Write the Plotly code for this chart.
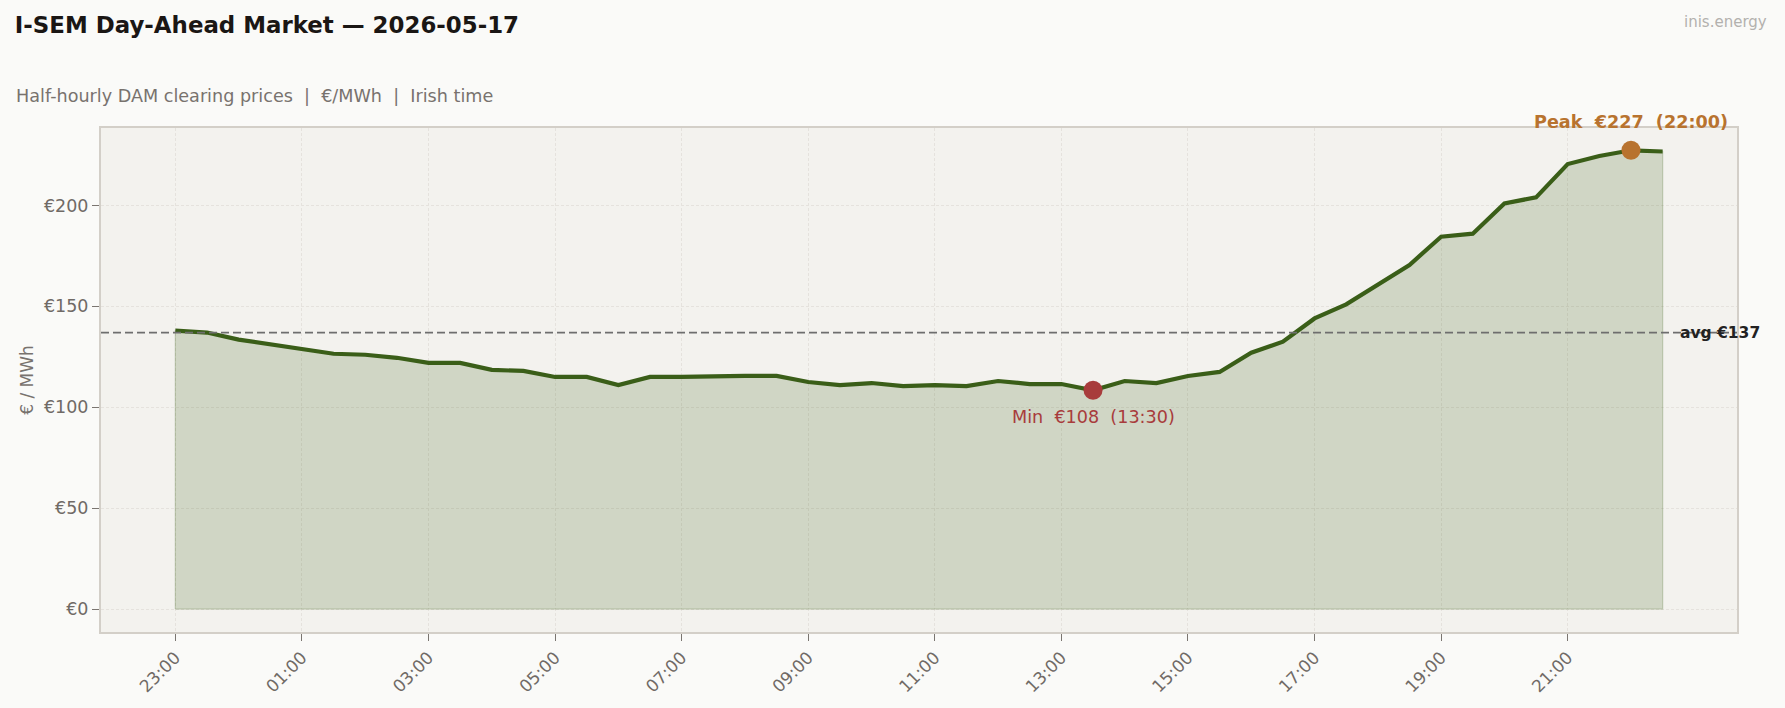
import pandas as pd
import plotly.graph_objects as go

# ---- data ----
start_time = "2026-05-16 23:00"
n_periods = 48
prices = [138, 137, 133.5, 131, 129, 126.5, 126, 124.5, 122, 122,
          118.5, 118, 115, 115, 111, 115, 115, 115.5, 115.5, 115.5,
          112.5, 111, 112, 110.5, 111, 110.5, 113, 111.5, 111.5, 108.4,
          113, 112, 115.5, 117.5, 127, 132.5, 144, 151, 161, 170.5,
          184.5, 186, 201, 204, 220.5, 224.5, 227.3, 226.7]
y_ticks = [0, 50, 100, 150, 200]
y_tick_labels = ["€0", "€50", "€100", "€150", "€200"]

title_text = "I-SEM Day-Ahead Market — 2026-05-17"
subtitle_text = "Half-hourly DAM clearing prices  |  €/MWh  |  Irish time"
brand_text = "inis.energy"
y_title = "€ / MWh"

times = pd.date_range(start_time, periods=n_periods, freq="30min")
x_tickvals = list(times[::4])

# ---- styles ----
FONT = "DejaVu Sans"
LINE_C = "#3a5e18"
PEAK_C = "#b8732f"
MIN_C = "#a83c3c"
TICK_C = "#706a66"
GRID_C = "#e5e2dd"
BORDER_C = "#d3cfc8"

avg = sum(prices) / len(prices)
i_peak = max(range(n_periods), key=lambda i: prices[i])
i_min = min(range(n_periods), key=lambda i: prices[i])
nb = "\u00a0"

fig = go.Figure()

# filled area with edge
fig.add_trace(go.Scatter(
    x=[times[0]] + list(times) + [times[-1], times[0]],
    y=[0] + prices + [0, 0],
    fill="toself", fillcolor="rgba(58,94,22,0.19)",
    line=dict(color="rgba(58,94,22,0.22)", width=1.3),
    mode="lines", hoverinfo="skip", showlegend=False))

fig.add_trace(go.Scatter(
    x=times, y=prices, mode="lines",
    line=dict(color=LINE_C, width=4.2), showlegend=False))

fig.add_trace(go.Scatter(
    x=[times[i_peak]], y=[prices[i_peak]], mode="markers",
    marker=dict(color=PEAK_C, size=19), showlegend=False))
fig.add_trace(go.Scatter(
    x=[times[i_min]], y=[prices[i_min]], mode="markers",
    marker=dict(color=MIN_C, size=19), showlegend=False))

# average line
fig.add_shape(type="line", xref="paper", x0=0, x1=1, yref="y", y0=avg, y1=avg,
              line=dict(color="#6e6e6e", width=1.6, dash="8px,4px"), layer="above")

annotations = [
    dict(x=times[i_peak], y=prices[i_peak], xref="x", yref="y", showarrow=False,
         text=f"<b>Peak{nb}{nb}€{prices[i_peak]:.0f}{nb}{nb}({times[i_peak]:%H:%M})</b>",
         font=dict(family=FONT, size=17.6, color=PEAK_C), yshift=28,
         xanchor="center", yanchor="middle"),
    dict(x=times[i_min], y=prices[i_min], xref="x", yref="y", showarrow=False,
         text=f"Min{nb}{nb}€{prices[i_min]:.0f}{nb}{nb}({times[i_min]:%H:%M})",
         font=dict(family=FONT, size=17.6, color=MIN_C), yshift=-27,
         xanchor="center", yanchor="middle"),
    dict(x=times[-1] + pd.Timedelta(minutes=15), y=avg, xref="x", yref="y",
         showarrow=False, text=f"<b>avg €{avg:.0f}</b>",
         font=dict(family=FONT, size=15.5, color="#222222"),
         xanchor="left", yanchor="middle"),
    dict(x=-0.0529, y=1.0643, xref="paper", yref="paper", showarrow=False,
         text=subtitle_text.replace(" ", nb), font=dict(family=FONT, size=17.6, color="#78726e"),
         xanchor="left", yanchor="middle"),
    dict(x=1.0196, y=1.211, xref="paper", yref="paper", showarrow=False,
         text=brand_text, font=dict(family=FONT, size=15, color="#b3b1ae"),
         xanchor="right", yanchor="middle"),
]

x0 = times[0] - pd.Timedelta(minutes=70.5)
x1 = times[0] + pd.Timedelta(minutes=1480.5)

fig.update_layout(
    width=1785, height=708,
    margin=dict(l=101, r=48, t=128, b=76),
    paper_bgcolor="#fafaf8", plot_bgcolor="#f3f2ee",
    font=dict(family=FONT, color=TICK_C),
    title=dict(text=f"<b>{title_text}</b>", x=0.0083, xanchor="left",
               y=1 - 25 / 708, yanchor="middle",
               font=dict(family=FONT, size=22.9, color="#1a1614")),
    annotations=annotations,
    xaxis=dict(type="date", range=[x0, x1], tickmode="array", tickvals=x_tickvals,
               tickformat="%H:%M", tickangle=-45, ticks="outside", ticklen=7,
               tickcolor="#7a7570", tickwidth=1.3,
               tickfont=dict(family=FONT, size=17, color=TICK_C),
               showgrid=True, gridcolor=GRID_C, griddash="3px,2px", gridwidth=1,
               showline=True, linecolor=BORDER_C, linewidth=2, mirror=True,
               zeroline=False),
    yaxis=dict(range=[-11.35, 238.35], tickmode="array", tickvals=y_ticks,
               ticktext=y_tick_labels,
               ticks="outside", ticklen=7, tickcolor="#7a7570", tickwidth=1.3,
               tickfont=dict(family=FONT, size=17.5, color=TICK_C),
               showgrid=True, gridcolor=GRID_C, griddash="3px,2px", gridwidth=1,
               showline=True, linecolor=BORDER_C, linewidth=2, mirror=True,
               zeroline=False,
               title=dict(text=y_title, font=dict(family=FONT, size=17, color="#78726e"),
                          standoff=6)),
)

fig.write_html("out.html")
